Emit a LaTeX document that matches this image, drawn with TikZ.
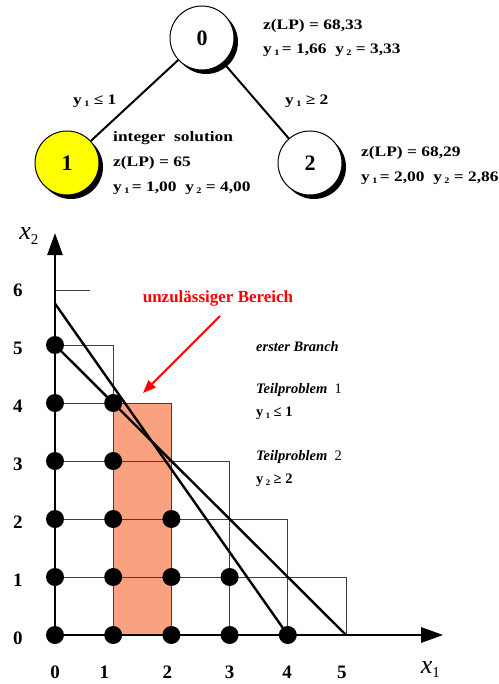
\documentclass[tikz,border=0pt]{standalone}
\usepackage{fontspec}
\setmainfont{Liberation Serif}
\newfontfamily\infofont{Liberation Serif}[FakeStretch=1.2]
\usetikzlibrary{arrows.meta,shadows}
\definecolor{salmonfill}{RGB}{250,162,128}
\definecolor{nodeyellow}{RGB}{255,255,0}
\newcommand{\lowsub}[1]{\raisebox{-0.4ex}{\fontsize{8.5}{8.5}\selectfont #1}}
\tikzset{
  treenode/.style={circle, draw, line width=1pt, minimum size=64pt, inner sep=0pt,
    font=\fontsize{22}{22}\selectfont\bfseries, fill=white,
    drop shadow={shadow xshift=4pt, shadow yshift=-4pt, fill=black, opacity=1}},
  treeedge/.style={line width=2pt},
  info/.style={anchor=west, inner sep=0pt, font=\infofont\fontsize{14.5}{14.5}\selectfont\bfseries},
  side/.style={anchor=west, inner sep=0pt, font=\fontsize{14.5}{14.5}\selectfont\bfseries\itshape},
  sidemath/.style={anchor=west, inner sep=0pt, font=\fontsize{14.5}{14.5}\selectfont\bfseries},
  axislab/.style={inner sep=0pt, font=\fontsize{19}{19}\selectfont\bfseries},
  varlab/.style={inner sep=0pt, font=\fontsize{26}{26}\selectfont\itshape},
  gridline/.style={line width=0.7pt, draw=black!75},
  axisline/.style={line width=2.6pt, -{Triangle[length=22pt,width=15pt]}},
  lpline/.style={line width=2.4pt},
  dot/.style={circle, fill=black, minimum size=18pt, inner sep=0pt},
}
\begin{document}
\begin{tikzpicture}[x=1pt,y=-1pt]
\useasboundingbox (0,0) rectangle (498,684);
% ---------- tree ----------
\node[treenode] (n0) at (202,38) {0};
\node[treenode, fill=nodeyellow] (n1) at (67,163) {1};
\node[treenode] (n2) at (310,163) {2};
\draw[treeedge] (n0) -- (n1);
\draw[treeedge] (n0) -- (n2);
\node[info] (e1) at (73,101) {y\,\lowsub{1} ≤ 1};
\node[info] (e2) at (285,101) {y\,\lowsub{1} ≥ 2};
\node[info] (i0a) at (263,26) {z(LP) = 68,33};
\node[info] (i0b) at (263,50) {y\,\lowsub{1}\,= 1,66\ \ y\,\lowsub{2} = 3,33};
\node[info] (i1a) at (113,138) {integer\ \ solution};
\node[info] (i1b) at (113,163) {z(LP) = 65};
\node[info] (i1c) at (113,188) {y\,\lowsub{1}\,= 1,00\ \ y\,\lowsub{2} = 4,00};
\node[info] (i2a) at (361,153) {z(LP) = 68,29};
\node[info] (i2b) at (361,178) {y\,\lowsub{1}\,= 2,00\ \ y\,\lowsub{2} = 2,86};
% ---------- graph ----------
\begin{scope}[shift={(55,635)}, x=58.2pt, y=58pt]
  \fill[salmonfill] (1,0) rectangle (2,4);
  \draw[gridline] (1,0) rectangle (2,4);
  % staircase grid
  \draw[gridline] (0,5) -- (1,5) -- (1,0);
  \draw[gridline] (0,4) -- (2,4) -- (2,0);
  \draw[gridline] (0,3) -- (3,3) -- (3,0);
  \draw[gridline] (0,2) -- (4,2) -- (4,0);
  \draw[gridline] (0,1) -- (5,1) -- (5,0);
  \coordinate (o) at (0,0);
  \coordinate (ytip) at (0,6.93);
  \coordinate (xtip) at (6.67,0);
  \coordinate (t6a) at (0,5.95);
  \coordinate (t6b) at (0.6,5.95);
  \draw[gridline] (t6a) -- (t6b);
  % LP constraint lines
  \coordinate (a1) at (0,5);
  \coordinate (a2) at (5,0);
  \coordinate (b1) at (0,5.714);
  \coordinate (b2) at (4,0);
  \draw[lpline] (a1) -- (a2);
  \draw[lpline] (b1) -- (b2);
  \draw[axisline] (o) -- (ytip);
  \draw[axisline] (o) -- (xtip);
  % integer points
  \foreach \i/\j in {0/0,0/1,0/2,0/3,0/4,0/5,1/0,1/1,1/2,1/3,1/4,2/0,2/1,2/2,3/0,3/1,4/0}
    \node[dot] (p\i\j) at (\i,\j) {};
  % axis labels
  \foreach \j in {0,...,6}
    \node[axislab] (yl\j) at (-0.64,\j-0.05) {\j};
  \node[axislab] (xl0) at (0,-0.64) {0};
  \node[axislab] (xl1) at (0.85,-0.64) {1};
  \node[axislab] (xl2) at (1.93,-0.64) {2};
  \node[axislab] (xl3) at (3.0,-0.64) {3};
  \node[axislab] (xl4) at (3.99,-0.64) {4};
  \node[axislab] (xl5) at (4.93,-0.64) {5};
  \node[varlab] (x1lab) at (6.45,-0.6) {x\raisebox{-0.35ex}{\upshape\fontsize{15}{15}\selectfont 1}};
  \node[varlab] (x2lab) at (-0.45,6.88) {x\raisebox{-0.35ex}{\upshape\fontsize{15}{15}\selectfont 2}};
\end{scope}
% red annotation
\node[inner sep=0pt, text=red, font=\fontsize{17}{17}\selectfont\bfseries] (bad) at (218,298) {unzulässiger Bereich};
\coordinate (arrs) at (220,316);
\coordinate (arre) at (143,393);
\draw[red, line width=2pt, -{Triangle[length=13pt,width=10pt]}] (arrs) -- (arre);
% side text
\node[side] (s1) at (256,347) {erster Branch};
\node[side] (s2) at (256,390) {Teilproblem\ \ \upshape\mdseries 1};
\node[sidemath] (s3) at (256,413) {y\,\lowsub{1}\ ≤ 1};
\node[side] (s4) at (256,457) {Teilproblem\ \ \upshape\mdseries 2};
\node[sidemath] (s5) at (256,480) {y\,\lowsub{2}\ ≥ 2};
\end{tikzpicture}
\end{document}
